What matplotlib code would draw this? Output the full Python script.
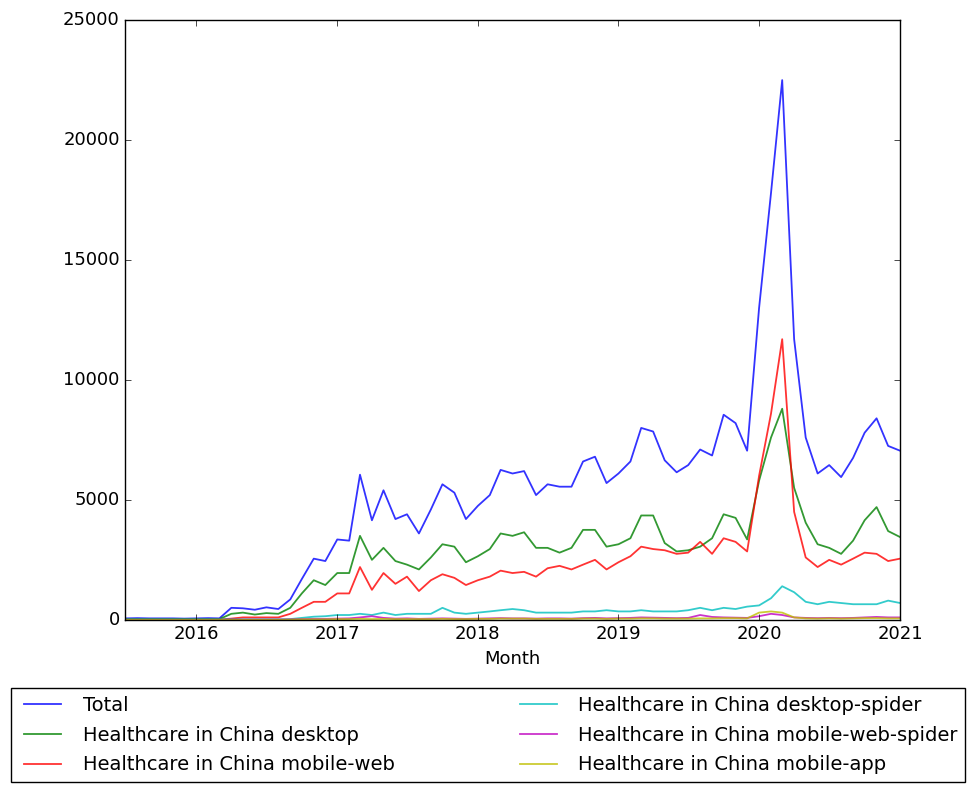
import matplotlib
matplotlib.use("Agg")
import matplotlib.pyplot as plt
import pandas as pd

months = pd.date_range("2015-07-01", "2021-01-01", freq="MS")

total = [60, 70, 60, 60, 60, 50, 60, 70, 60,
         500, 480, 420, 520, 450, 850, 1700, 2550, 2450,
         3350, 3300, 6050, 4150, 5400, 4200, 4400, 3600, 4600, 5650, 5300, 4200,
         4750, 5200, 6250, 6100, 6200, 5200, 5650, 5550, 5550, 6600, 6800, 5700,
         6100, 6600, 8000, 7850, 6650, 6150, 6450, 7100, 6850, 8550, 8200, 7050,
         13000, 17800, 22500, 11700, 7600, 6100, 6450, 5950, 6750, 7800, 8400, 7250,
         7050]
desktop = [30, 30, 30, 30, 30, 30, 30, 30, 30,
           250, 300, 220, 280, 250, 500, 1100, 1650, 1450,
           1950, 1950, 3500, 2500, 3000, 2450, 2300, 2100, 2600, 3150, 3050, 2400,
           2650, 2950, 3600, 3500, 3650, 3000, 3000, 2800, 3000, 3750, 3750, 3050,
           3150, 3400, 4350, 4350, 3200, 2850, 2900, 3050, 3400, 4400, 4250, 3350,
           5800, 7600, 8800, 5500, 4050, 3150, 3000, 2750, 3300, 4150, 4700, 3700,
           3450]
mobile_web = [5, 5, 5, 5, 5, 5, 5, 5, 10,
              50, 100, 100, 100, 100, 250, 500, 750, 750,
              1100, 1100, 2200, 1250, 1950, 1500, 1800, 1200, 1650, 1900, 1750, 1450,
              1650, 1800, 2050, 1950, 2000, 1800, 2150, 2250, 2100, 2300, 2500, 2100,
              2400, 2650, 3050, 2950, 2900, 2750, 2800, 3250, 2750, 3400, 3250, 2850,
              6000, 8600, 11700, 4500, 2600, 2200, 2500, 2300, 2550, 2800, 2750, 2450,
              2550]
desktop_spider = [20, 20, 20, 20, 20, 20, 20, 20, 20,
                  20, 20, 20, 20, 20, 30, 80, 130, 150,
                  200, 200, 250, 200, 300, 200, 250, 250, 250, 500, 300, 250,
                  300, 350, 400, 450, 400, 300, 300, 300, 300, 350, 350, 400,
                  350, 350, 400, 350, 350, 350, 400, 500, 400, 500, 450, 550,
                  600, 900, 1400, 1150, 750, 650, 750, 700, 650, 650, 650, 800,
                  700]
mobile_web_spider = [0, 0, 0, 0, 0, 0, 0, 0, 0,
                     10, 10, 10, 10, 10, 20, 30, 40, 40,
                     50, 60, 100, 150, 80, 50, 60, 40, 50, 60, 50, 40,
                     50, 60, 70, 60, 60, 50, 60, 60, 50, 70, 80, 60,
                     70, 80, 100, 90, 80, 70, 80, 200, 120, 100, 90, 80,
                     150, 250, 200, 100, 80, 70, 80, 70, 80, 100, 120, 100,
                     100]
mobile_app = [0, 0, 0, 0, 0, 0, 0, 0, 0,
              0, 0, 0, 0, 0, 10, 20, 20, 20,
              30, 30, 40, 30, 40, 30, 30, 30, 30, 40, 30, 30,
              40, 40, 50, 50, 50, 40, 40, 40, 40, 50, 50, 40,
              50, 50, 60, 60, 50, 50, 50, 60, 60, 70, 70, 60,
              300, 350, 300, 100, 60, 50, 60, 50, 60, 70, 70, 60,
              60]

series = [
    ("Total", total, "b"),
    ("Healthcare in China desktop", desktop, "g"),
    ("Healthcare in China mobile-web", mobile_web, "r"),
    ("Healthcare in China desktop-spider", desktop_spider, "c"),
    ("Healthcare in China mobile-web-spider", mobile_web_spider, "m"),
    ("Healthcare in China mobile-app", mobile_app, "y"),
]

plt.style.use("classic")
fig = plt.figure(figsize=(9.72, 8.06), dpi=100, facecolor="white")
ax = fig.add_axes([0.129, 0.231, 0.797, 0.744])
for name, vals, col in series:
    ax.plot(months, vals, color=col, lw=1.3, alpha=0.8, label=name)

ax.set_xlim(months[0], months[-1])
ax.set_ylim(0, 25000)
ax.set_xticks(pd.to_datetime(["2016-01-01", "2017-01-01", "2018-01-01",
                              "2019-01-01", "2020-01-01", "2021-01-01"]))
ax.set_xticklabels(["2016", "2017", "2018", "2019", "2020", "2021"])
ax.tick_params(labelsize=13)
ax.set_xlabel("Month", fontsize=13)
fig.legend(*ax.get_legend_handles_labels(), loc="upper left",
           bbox_to_anchor=(0.011, 0.02, 0.982, 0.126), mode="expand", ncol=2,
           fontsize=14, frameon=True, fancybox=False, borderaxespad=0,
           handlelength=2.5, labelspacing=0.55)
fig.savefig("out.png", dpi=100, facecolor="white")
